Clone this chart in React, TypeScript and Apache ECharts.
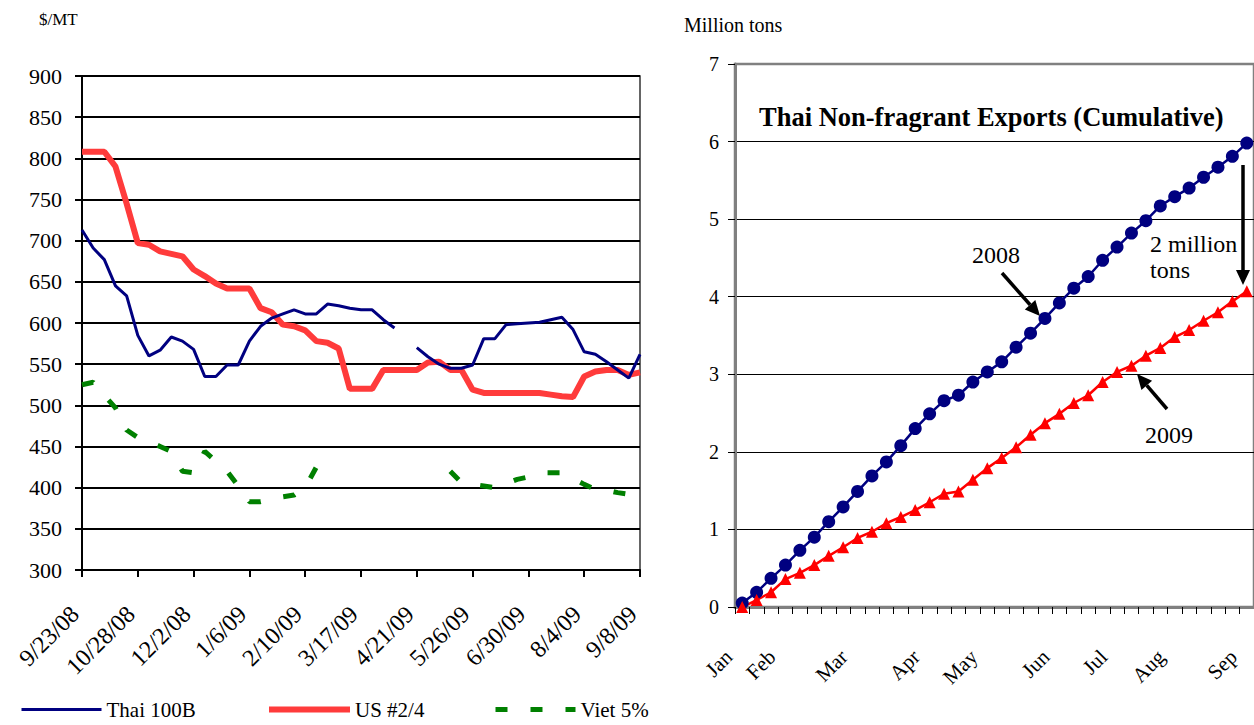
import React, { useEffect, useRef } from 'react';
import * as echarts from 'echarts';

// ---------- Left chart: weekly prices ($/MT) ----------
const weekDates = [
  '9/23/08', '9/30/08', '10/7/08', '10/14/08', '10/21/08', '10/28/08', '11/4/08', '11/11/08', '11/18/08', '11/25/08',
  '12/2/08', '12/9/08', '12/16/08', '12/23/08', '12/30/08', '1/6/09', '1/13/09', '1/20/09', '1/27/09', '2/3/09',
  '2/10/09', '2/17/09', '2/24/09', '3/3/09', '3/10/09', '3/17/09', '3/24/09', '3/31/09', '4/7/09', '4/14/09',
  '4/21/09', '4/28/09', '5/5/09', '5/12/09', '5/19/09', '5/26/09', '6/2/09', '6/9/09', '6/16/09', '6/23/09',
  '6/30/09', '7/7/09', '7/14/09', '7/21/09', '7/28/09', '8/4/09', '8/11/09', '8/18/09', '8/25/09', '9/1/09',
  '9/8/09',
];

const thai100B = [
  713, 691, 677, 645, 633, 585, 560, 567, 583, 578,
  568, 535, 535, 549, 549, 578, 596, 606, 611, 616,
  611, 611, 623, 621, 618, 616, 616, 604, 594, null,
  570, 559, 550, 545, 545, 549, 581, 581, 598, 599,
  600, 601, 604, 607, 592, 565, 562, 553, 543, 533,
  562,
];

const us24 = [
  808, 808, 808, 790, 745, 697, 695, 687, 684, 681,
  665, 657, 648, 642, 642, 642, 618, 613, 598, 596,
  591, 578, 576, 569, 520, 520, 520, 543, 543, 543,
  543, 552, 553, 543, 543, 519, 515, 515, 515, 515,
  515, 515, 513, 511, 510, 535, 541, 543, 543, 537,
  540,
];

const viet5 = [
  525, 528, 512, 497, 470, 461, 456, 450, 444, 420,
  418, 444, 432, 420, 402, 383, 383, 386, 389, 391,
  400, 425, 434, null, null, null, null, null, null, null,
  null, null, null, 420, 406, 404, 402, 400, 405, 410,
  413, 418, 418, 418, 411, 404, 398, 397, 394, 392,
  391,
];

// ---------- Right chart: cumulative exports (million tons) ----------
const exportWeeks = [
  '1', '2', '3', '4', '5', '6', '7', '8', '9', '10', '11', '12',
  '13', '14', '15', '16', '17', '18', '19', '20', '21', '22', '23', '24',
  '25', '26', '27', '28', '29', '30', '31', '32', '33', '34', '35', '36',
];
const monthLabels = ['Jan', 'Feb', 'Mar', 'Apr', 'May', 'Jun', 'Jul', 'Aug', 'Sep'];
const monthWeekIndex = [0, 3, 8, 13, 17, 22, 26, 30, 35];

const exports2008 = [
  0.05, 0.19, 0.37, 0.54, 0.73, 0.90, 1.10, 1.29, 1.49, 1.69, 1.87, 2.08,
  2.30, 2.49, 2.66, 2.73, 2.90, 3.03, 3.16, 3.35, 3.53, 3.72, 3.92, 4.11,
  4.26, 4.47, 4.64, 4.82, 4.98, 5.17, 5.29, 5.40, 5.54, 5.67, 5.81, 5.98,
];
const exports2009 = [
  0.00, 0.09, 0.19, 0.36, 0.44, 0.54, 0.66, 0.77, 0.89, 0.97, 1.08, 1.16,
  1.25, 1.35, 1.46, 1.49, 1.64, 1.79, 1.92, 2.06, 2.22, 2.37, 2.49, 2.63,
  2.73, 2.90, 3.03, 3.11, 3.24, 3.34, 3.48, 3.57, 3.69, 3.80, 3.94, 4.07,
];

const SERIF = "'Liberation Serif', 'Times New Roman', serif";

function arrow(fx: number, fy: number, tx: number, ty: number) {
  const dx = tx - fx;
  const dy = ty - fy;
  const len = Math.sqrt(dx * dx + dy * dy);
  const ux = dx / len;
  const uy = dy / len;
  const hl = 15;
  const hw = 7;
  const bx = tx - ux * hl;
  const by = ty - uy * hl;
  return [
    {
      type: 'line',
      shape: { x1: fx, y1: fy, x2: bx, y2: by },
      style: { stroke: '#000', lineWidth: 3.5 },
    },
    {
      type: 'polygon',
      shape: {
        points: [
          [tx, ty],
          [bx - uy * hw, by + ux * hw],
          [bx + uy * hw, by - ux * hw],
        ],
      },
      style: { fill: '#000' },
    },
  ];
}

function serifText(text: string, x: number, y: number, size: number) {
  return {
    type: 'text',
    x,
    y,
    style: {
      text,
      fill: '#000',
      fontSize: size,
      fontFamily: SERIF,
      align: 'left',
      verticalAlign: 'middle',
    },
  };
}

export default function App() {
  const ref = useRef<HTMLDivElement>(null);

  useEffect(() => {
    if (!ref.current) return;
    const chart = echarts.init(ref.current, undefined, { renderer: 'svg' });

    const legendBase = (name: string, left: number, itemWidth: number, width: number) => ({
      data: [name],
      left,
      top: 699,
      padding: 0,
      itemWidth,
      itemHeight: 14,
      itemGap: 0,
      selectedMode: false,
      itemStyle: { opacity: 0 },
      textStyle: { fontFamily: SERIF, fontSize: 21, color: '#000' },
      lineStyle: { width },
    });

    const option: any = {
      animation: false,
      backgroundColor: '#fff',
      textStyle: { fontFamily: SERIF },
      title: [
        {
          text: '$/MT',
          left: 34,
          top: 6,
          textStyle: { fontFamily: SERIF, fontSize: 17, fontWeight: 'normal', color: '#000' },
        },
        {
          text: 'Million tons',
          left: 679,
          top: 10,
          textStyle: { fontFamily: SERIF, fontSize: 20, fontWeight: 'normal', color: '#000' },
        },
        {
          text: 'Thai Non-fragrant Exports (Cumulative)',
          left: 754,
          top: 98,
          textStyle: { fontFamily: SERIF, fontSize: 26.5, fontWeight: 'bold', color: '#000' },
        },
      ],
      legend: [
        legendBase('Thai 100B', 20, 80, 3),
        legendBase('US #2/4', 266, 81, 6),
        legendBase('Viet 5%', 493, 80, 5),
      ],
      grid: [
        {
          left: 82,
          top: 76,
          width: 558,
          height: 494,
          show: true,
          borderColor: '#333',
          borderWidth: 1.5,
          backgroundColor: 'transparent',
        },
        {
          left: 735,
          top: 64,
          width: 523.5,
          height: 543,
          show: true,
          borderColor: '#808080',
          borderWidth: 2.5,
          backgroundColor: 'transparent',
        },
      ],
      xAxis: [
        {
          type: 'category',
          gridIndex: 0,
          data: weekDates,
          boundaryGap: false,
          axisLine: { show: true, lineStyle: { color: '#000', width: 2 } },
          axisTick: { show: true, interval: 4, length: 7, lineStyle: { color: '#000', width: 2 } },
          axisLabel: {
            interval: 4,
            rotate: 45,
            margin: 33,
            padding: [0, 10, 0, 0],
            fontFamily: SERIF,
            fontSize: 24,
            color: '#000',
          },
          splitLine: { show: false },
        },
        {
          type: 'category',
          gridIndex: 1,
          data: exportWeeks,
          boundaryGap: true,
          axisLine: { show: true, lineStyle: { color: '#808080', width: 3 } },
          axisTick: { show: true, interval: 0, length: 7, lineStyle: { color: '#000', width: 1 } },
          axisLabel: {
            interval: 0,
            rotate: 45,
            margin: 33,
            padding: [0, 19, 0, 0],
            fontFamily: SERIF,
            fontSize: 21,
            color: '#000',
            formatter: (_v: string, i: number) => {
              const k = monthWeekIndex.indexOf(i);
              return k >= 0 ? monthLabels[k] : '';
            },
          },
          splitLine: { show: false },
        },
      ],
      yAxis: [
        {
          type: 'value',
          gridIndex: 0,
          min: 300,
          max: 900,
          interval: 50,
          axisLine: { show: true, lineStyle: { color: '#000', width: 2 } },
          axisTick: { show: true, length: 7, lineStyle: { color: '#000', width: 2 } },
          axisLabel: { fontFamily: SERIF, fontSize: 22, color: '#000', margin: 20 },
          splitLine: { show: true, lineStyle: { color: '#000', width: 2 } },
        },
        {
          type: 'value',
          gridIndex: 1,
          min: 0,
          max: 7,
          interval: 1,
          axisLine: { show: true, lineStyle: { color: '#808080', width: 3 } },
          axisTick: { show: true, length: 7, lineStyle: { color: '#000', width: 1 } },
          axisLabel: { fontFamily: SERIF, fontSize: 20, color: '#000', margin: 16 },
          splitLine: { show: true, showMaxLine: false, lineStyle: { color: '#000', width: 1 } },
        },
      ],
      series: [
        {
          name: 'Thai 100B',
          type: 'line',
          xAxisIndex: 0,
          yAxisIndex: 0,
          data: thai100B,
          symbol: 'none',
          connectNulls: false,
          lineStyle: { color: '#000080', width: 3 },
          itemStyle: { color: '#000080' },
          z: 4,
        },
        {
          name: 'US #2/4',
          type: 'line',
          xAxisIndex: 0,
          yAxisIndex: 0,
          data: us24,
          symbol: 'none',
          lineStyle: { color: '#FF3B3B', width: 6 },
          itemStyle: { color: '#FF3B3B' },
          z: 3,
        },
        {
          name: 'Viet 5%',
          type: 'line',
          xAxisIndex: 0,
          yAxisIndex: 0,
          data: viet5,
          symbol: 'none',
          connectNulls: false,
          lineStyle: { color: '#008000', width: 5, type: [12, 23], cap: 'butt' },
          itemStyle: { color: '#008000' },
          z: 3,
        },
        {
          name: '2008',
          type: 'line',
          xAxisIndex: 1,
          yAxisIndex: 1,
          data: exports2008,
          symbol: 'circle',
          symbolSize: 13,
          lineStyle: { color: '#000080', width: 2.5 },
          itemStyle: { color: '#000080' },
          z: 4,
        },
        {
          name: '2009',
          type: 'line',
          xAxisIndex: 1,
          yAxisIndex: 1,
          data: exports2009,
          symbol: 'triangle',
          symbolSize: 12,
          lineStyle: { color: '#FF0000', width: 2.5 },
          itemStyle: { color: '#FF0000' },
          z: 4,
        },
      ],
      graphic: [
        serifText('2008', 972, 255, 24),
        serifText('2 million', 1150, 244, 24),
        serifText('tons', 1150, 270, 24),
        serifText('2009', 1145, 435, 24),
        ...arrow(1002, 273, 1040, 316),
        ...arrow(1243, 165, 1243, 285),
        ...arrow(1167, 409, 1137, 374),
      ],
    };

    chart.setOption(option);
    return () => chart.dispose();
  }, []);

  return (
    <div
      ref={ref}
      style={{ position: 'fixed', left: 0, top: 0, width: 1254, height: 725, background: '#fff' }}
    />
  );
}
